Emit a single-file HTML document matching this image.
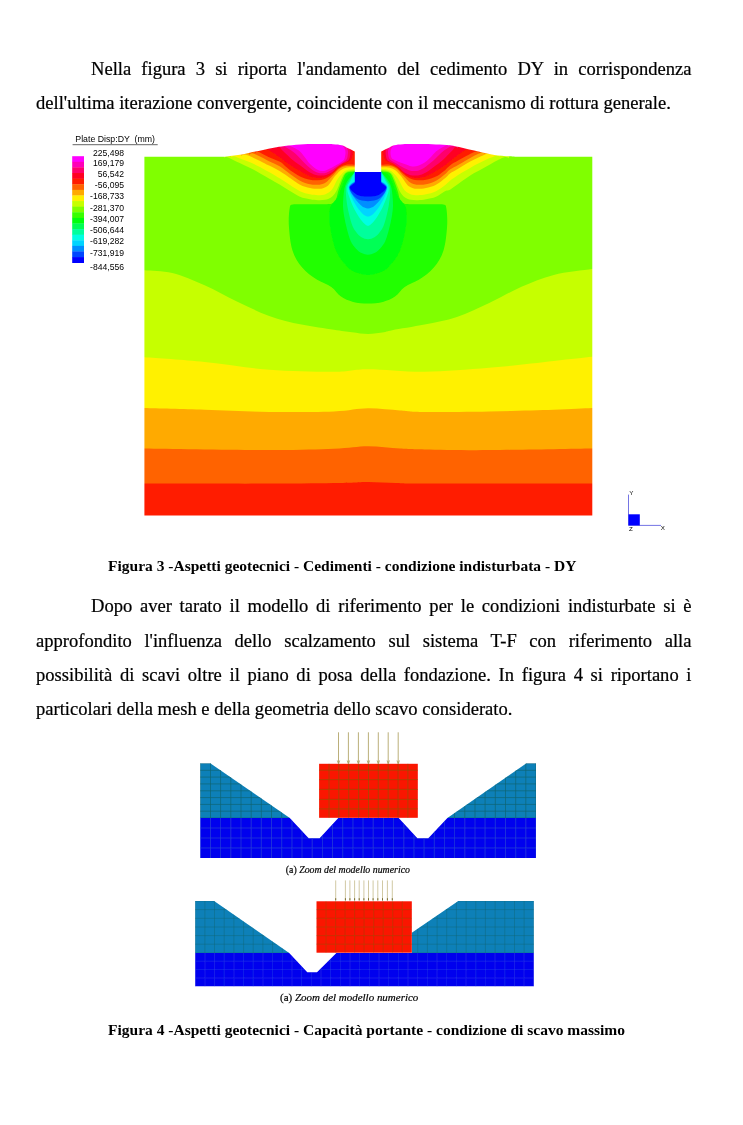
<!DOCTYPE html>
<html lang="it"><head><meta charset="utf-8"><title>Aspetti geotecnici</title>
<style>
html,body{margin:0;padding:0;background:#fff;}
body{width:743px;height:1125px;position:relative;overflow:hidden;font-family:"Liberation Serif","Times New Roman",serif;color:#000;}
p{position:absolute;left:36px;width:655.5px;margin:0;font-size:18.56px;line-height:33.4px;text-align:justify;text-indent:55px;-webkit-text-stroke:0.22px #000;}
.cap{position:absolute;left:108px;margin:0;font-size:15.51px;line-height:20px;font-weight:bold;white-space:nowrap;}
.sub{position:absolute;margin:0;white-space:nowrap;font-style:italic;line-height:14px;-webkit-text-stroke:0.2px #000;}
.sub span{font-style:normal;}
svg{position:absolute;left:0;top:0;}
svg text{font-family:"Liberation Sans",Arial,sans-serif;fill:#000;}
.lg{font-size:8.6px;}
</style></head><body>
<p style="top:52.0px;line-height:33.5px">Nella figura 3 si riporta l'andamento del cedimento DY in corrispondenza dell'ultima iterazione convergente, coincidente con il meccanismo di rottura generale.</p>
<svg width="743" height="1125" viewBox="0 0 743 1125">
<defs>
<clipPath id="dom"><path d="M144.4 156.8C156.2 156.8 201.3 156.9 215.0 156.8C228.7 156.7 222.1 156.8 226.5 156.4C230.9 156.0 237.2 155.3 241.5 154.6C245.8 153.9 248.7 152.9 252.3 152.1C255.9 151.3 259.5 150.6 263.1 149.9C266.7 149.2 270.2 148.4 273.8 147.7C277.4 147.0 280.2 146.4 284.6 145.9C289.0 145.4 294.8 144.7 300.0 144.4C305.2 144.1 310.5 144.1 316.0 144.1C321.5 144.1 328.7 144.0 333.0 144.2C337.3 144.4 339.2 144.6 341.7 145.3C344.2 146.0 345.9 147.2 348.1 148.2C350.3 149.2 353.7 150.9 354.8 151.5L354.8 171.9L381.2 171.9L381.2 151.5C382.3 150.9 385.7 149.2 387.9 148.2C390.1 147.2 391.8 146.0 394.3 145.3C396.8 144.6 398.7 144.4 403.0 144.2C407.3 144.0 414.5 144.1 420.0 144.1C425.5 144.1 431.0 144.2 436.0 144.4C441.0 144.6 445.6 144.6 450.0 145.2C454.4 145.8 458.1 146.8 462.1 147.7C466.1 148.6 470.2 149.6 474.2 150.5C478.2 151.4 482.9 152.6 486.3 153.3C489.7 154.0 490.4 154.4 494.4 154.9C498.3 155.4 505.1 156.0 510.0 156.3C514.9 156.6 510.3 156.7 524.0 156.8C537.7 156.9 580.9 156.8 592.3 156.8L592.3 515.5L144.4 515.5Z"/></clipPath>
<filter id="bl" x="-5%" y="-5%" width="110%" height="110%"><feGaussianBlur stdDeviation="0.7"/></filter>
<filter id="bl2" x="-5%" y="-5%" width="110%" height="110%"><feGaussianBlur stdDeviation="0.45"/></filter>
</defs>
<g clip-path="url(#dom)"><g filter="url(#bl)">
<rect x="130" y="120" width="480" height="410" fill="#80ff00"/>
<path fill="#c6ff00" d="M140.0 270.0C140.8 270.0 139.4 269.7 144.8 270.2C150.2 270.7 162.3 270.5 172.3 273.0C182.3 275.5 193.8 280.5 204.6 285.2C215.4 289.9 226.1 296.3 236.9 301.4C247.7 306.5 258.4 312.0 269.2 315.9C280.0 319.8 290.7 322.3 301.5 324.6C312.3 326.9 325.4 328.5 333.8 329.8C342.2 331.1 346.3 331.5 352.0 332.2C357.7 332.9 362.7 334.0 368.0 334.0C373.3 334.0 379.9 332.8 384.0 332.2C388.1 331.6 385.5 331.5 392.3 330.2C399.1 328.9 413.8 326.8 424.6 324.6C435.4 322.4 446.1 320.6 456.9 317.0C467.7 313.4 478.4 308.0 489.2 303.0C500.0 298.0 510.7 291.5 521.5 286.8C532.3 282.1 542.1 277.8 553.8 274.9C565.5 271.9 584.7 270.1 591.9 269.1C599.1 268.1 596.1 268.9 597.0 268.9L597.3 520.5L139.4 520.5Z"/>
<path fill="#fff100" d="M140.0 357.2C140.8 357.2 134.0 356.5 144.8 357.3C155.6 358.1 183.9 359.9 204.6 362.0C225.3 364.1 247.7 368.1 269.2 369.7C290.7 371.3 317.3 371.9 333.8 371.8C350.3 371.7 352.9 369.2 368.0 369.2C383.1 369.2 404.4 372.0 424.6 371.8C444.8 371.6 467.7 369.6 489.2 367.8C510.7 366.0 536.7 362.8 553.8 360.9C570.9 359.0 584.7 357.4 591.9 356.7C599.1 356.0 596.1 356.6 597.0 356.6L597.3 520.5L139.4 520.5Z"/>
<path fill="#ffaa00" d="M140.0 408.0C140.8 408.0 134.0 407.8 144.8 408.1C155.6 408.4 183.9 409.2 204.6 409.8C225.3 410.4 247.7 411.7 269.2 412.0C290.7 412.3 317.3 412.0 333.8 411.4C350.3 410.8 357.0 408.4 368.0 408.3C379.0 408.2 390.6 409.9 400.0 410.5C409.4 411.1 409.7 411.9 424.6 412.0C439.5 412.1 467.7 411.8 489.2 411.4C510.7 411.0 536.7 410.4 553.8 409.8C570.9 409.2 584.7 408.4 591.9 408.1C599.1 407.8 596.1 408.0 597.0 408.0L597.3 520.5L139.4 520.5Z"/>
<path fill="#ff6300" d="M140.0 448.5C140.8 448.5 123.3 448.2 144.8 448.5C166.3 448.8 237.7 450.1 269.2 450.1C300.7 450.2 317.3 449.4 333.8 448.8C350.3 448.2 357.0 446.3 368.0 446.3C379.0 446.3 390.6 448.1 400.0 448.6C409.4 449.1 409.7 449.2 424.6 449.5C439.5 449.8 461.3 450.3 489.2 450.1C517.1 449.9 573.9 448.8 591.9 448.5C609.9 448.2 596.1 448.5 597.0 448.5L597.3 520.5L139.4 520.5Z"/>
<path fill="#ff1c00" d="M140.0 483.5C161.5 483.5 235.9 483.7 269.2 483.6C302.5 483.5 323.5 483.3 340.0 483.0C356.5 482.7 358.7 482.0 368.0 482.0C377.3 482.0 386.6 482.8 396.0 483.0C405.4 483.2 391.1 483.4 424.6 483.5C458.1 483.6 568.3 483.5 597.0 483.5L597.3 520.5L139.4 520.5Z"/>
<path fill="#20ff00" d="M355.0 171.5C354.0 171.6 350.7 171.6 349.0 172.0C347.3 172.4 346.1 172.9 345.0 174.2C343.9 175.5 343.2 178.0 342.3 180.0C341.4 182.0 340.6 184.3 339.9 186.3C339.2 188.3 338.6 190.1 338.0 192.0C337.4 193.9 337.2 196.2 336.5 198.0C335.8 199.8 335.4 202.0 333.5 203.0C331.6 204.0 330.6 204.0 325.0 204.2C319.4 204.4 305.4 204.1 300.0 204.2C294.6 204.3 294.2 204.0 292.5 204.6C290.8 205.2 290.3 204.4 289.7 208.0C289.1 211.6 288.4 219.2 288.9 226.3C289.4 233.4 290.3 243.7 292.5 250.6C294.7 257.5 298.1 262.7 302.2 267.5C306.2 272.3 311.9 276.4 316.8 279.6C321.7 282.8 327.3 284.1 331.3 286.9C335.3 289.7 337.4 294.1 341.0 296.6C344.6 299.1 348.6 300.7 353.1 301.9C357.6 303.1 363.0 303.6 368.0 303.6C373.0 303.6 378.4 303.1 382.9 301.9C387.4 300.7 391.4 299.1 395.0 296.6C398.6 294.1 400.7 289.7 404.7 286.9C408.7 284.1 414.3 282.8 419.2 279.6C424.1 276.4 429.8 272.3 433.8 267.5C437.9 262.7 441.3 257.5 443.5 250.6C445.7 243.7 446.6 233.4 447.1 226.3C447.6 219.2 446.9 211.6 446.3 208.0C445.7 204.4 445.2 205.2 443.5 204.6C441.8 204.0 441.4 204.3 436.0 204.2C430.6 204.1 416.6 204.4 411.0 204.2C405.4 204.0 404.4 204.0 402.5 203.0C400.6 202.0 400.2 199.8 399.5 198.0C398.8 196.2 398.6 193.9 398.0 192.0C397.4 190.1 396.8 188.3 396.1 186.3C395.4 184.3 394.6 182.0 393.7 180.0C392.8 178.0 392.1 175.5 391.0 174.2C389.9 172.9 388.7 172.4 387.0 172.0C385.3 171.6 382.0 171.6 381.0 171.5Z"/>
<path fill="#00ff0e" d="M355.0 171.8C354.2 172.0 351.4 172.3 350.0 173.0C348.6 173.7 347.5 174.7 346.5 176.0C345.5 177.3 344.8 179.3 344.0 181.0C343.2 182.7 342.7 184.5 342.0 186.3C341.3 188.1 340.8 190.1 340.0 192.0C339.2 193.9 338.2 196.1 337.0 198.0C335.8 199.9 333.7 201.8 332.5 203.5C331.3 205.2 330.5 206.1 330.0 208.0C329.5 209.9 329.5 211.9 329.5 215.0C329.5 218.1 328.9 220.4 330.0 226.3C331.1 232.2 333.0 243.7 336.0 250.6C339.0 257.5 344.3 263.8 348.0 267.5C351.7 271.2 354.7 271.8 358.0 273.0C361.3 274.2 364.7 275.0 368.0 275.0C371.3 275.0 374.7 274.2 378.0 273.0C381.3 271.8 384.3 271.2 388.0 267.5C391.7 263.8 397.0 257.5 400.0 250.6C403.0 243.7 404.9 232.2 406.0 226.3C407.1 220.4 406.5 218.1 406.5 215.0C406.5 211.9 406.5 209.9 406.0 208.0C405.5 206.1 404.7 205.2 403.5 203.5C402.3 201.8 400.2 199.9 399.0 198.0C397.8 196.1 396.8 193.9 396.0 192.0C395.2 190.1 394.7 188.1 394.0 186.3C393.3 184.5 392.8 182.7 392.0 181.0C391.2 179.3 390.5 177.3 389.5 176.0C388.5 174.7 387.4 173.7 386.0 173.0C384.6 172.3 381.8 172.0 381.0 171.8Z"/>
<path fill="#00ff55" d="M354.8 172.0C354.2 172.8 352.2 175.0 351.0 176.5C349.8 178.0 348.5 179.2 347.5 181.0C346.5 182.8 345.5 184.5 344.8 187.0C344.1 189.5 343.8 192.8 343.5 196.0C343.2 199.2 342.9 202.5 343.0 206.0C343.1 209.5 343.7 213.3 344.3 217.0C344.9 220.7 345.7 224.1 346.7 228.0C347.7 231.9 349.1 237.2 350.5 240.4C351.9 243.7 353.3 245.5 355.0 247.5C356.7 249.5 358.3 251.3 360.5 252.5C362.7 253.7 365.5 254.8 368.0 254.8C370.5 254.8 373.3 253.7 375.5 252.5C377.7 251.3 379.3 249.5 381.0 247.5C382.7 245.5 384.1 243.7 385.5 240.4C386.9 237.2 388.3 231.9 389.3 228.0C390.3 224.1 391.1 220.7 391.7 217.0C392.3 213.3 392.9 209.5 393.0 206.0C393.1 202.5 392.8 199.2 392.5 196.0C392.2 192.8 391.9 189.5 391.2 187.0C390.5 184.5 389.5 182.8 388.5 181.0C387.5 179.2 386.2 178.0 385.0 176.5C383.8 175.0 381.8 172.8 381.2 172.0Z"/>
<path fill="#00ff9c" d="M354.8 172.0C354.2 172.8 352.6 175.3 351.5 177.0C350.4 178.7 349.4 180.3 348.5 182.0C347.6 183.7 346.4 184.8 346.0 187.0C345.6 189.2 345.8 192.2 346.0 195.0C346.2 197.8 346.5 200.8 347.0 204.0C347.5 207.2 348.1 210.3 349.0 214.0C349.9 217.7 351.2 222.9 352.5 226.0C353.8 229.1 355.0 230.6 356.5 232.5C358.0 234.4 359.6 236.2 361.5 237.3C363.4 238.4 365.8 239.3 368.0 239.3C370.2 239.3 372.6 238.4 374.5 237.3C376.4 236.2 378.0 234.4 379.5 232.5C381.0 230.6 382.2 229.1 383.5 226.0C384.8 222.9 386.1 217.7 387.0 214.0C387.9 210.3 388.5 207.2 389.0 204.0C389.5 200.8 389.8 197.8 390.0 195.0C390.2 192.2 390.4 189.2 390.0 187.0C389.6 184.8 388.4 183.7 387.5 182.0C386.6 180.3 385.6 178.7 384.5 177.0C383.4 175.3 381.8 172.8 381.2 172.0Z"/>
<path fill="#00ffe3" d="M354.8 172.0C354.4 172.8 353.2 175.5 352.5 177.0C351.8 178.5 351.2 179.7 350.5 181.0C349.8 182.3 348.5 183.5 348.0 185.0C347.5 186.5 347.1 188.1 347.3 190.0C347.5 191.9 348.0 193.4 349.0 196.3C350.0 199.2 352.0 204.4 353.5 207.6C355.0 210.8 356.7 213.3 358.0 215.5C359.3 217.7 360.4 219.1 361.5 220.5C362.6 221.9 363.7 223.1 364.8 224.0C365.9 224.9 366.9 225.8 368.0 225.8C369.1 225.8 370.1 224.9 371.2 224.0C372.3 223.1 373.4 221.9 374.5 220.5C375.6 219.1 376.7 217.7 378.0 215.5C379.3 213.3 381.0 210.8 382.5 207.6C384.0 204.4 386.0 199.2 387.0 196.3C388.0 193.4 388.5 191.9 388.7 190.0C388.9 188.1 388.5 186.5 388.0 185.0C387.5 183.5 386.2 182.3 385.5 181.0C384.8 179.7 384.2 178.5 383.5 177.0C382.8 175.5 381.6 172.8 381.2 172.0Z"/>
<path fill="#00d4ff" d="M356.0 180.5C355.1 181.1 351.7 182.8 350.5 184.0C349.3 185.2 348.5 185.4 348.6 187.5C348.7 189.6 349.9 193.3 351.2 196.3C352.5 199.3 354.6 203.2 356.2 205.7C357.8 208.2 359.2 209.9 360.5 211.5C361.8 213.1 362.8 214.2 364.0 215.0C365.2 215.8 366.7 216.6 368.0 216.6C369.3 216.6 370.8 215.8 372.0 215.0C373.2 214.2 374.2 213.1 375.5 211.5C376.8 209.9 378.2 208.2 379.8 205.7C381.4 203.2 383.5 199.3 384.8 196.3C386.1 193.3 387.3 189.6 387.4 187.5C387.5 185.4 386.7 185.2 385.5 184.0C384.3 182.8 380.9 181.1 380.0 180.5Z"/>
<path fill="#008eff" d="M356.0 181.0C355.1 181.6 351.9 183.3 350.8 184.5C349.7 185.7 349.0 186.3 349.2 188.0C349.4 189.7 350.6 192.1 352.0 194.4C353.4 196.7 355.9 199.8 357.5 201.7C359.1 203.6 360.3 204.7 361.5 205.7C362.7 206.7 363.4 207.1 364.5 207.6C365.6 208.1 366.8 208.5 368.0 208.5C369.2 208.5 370.4 208.1 371.5 207.6C372.6 207.1 373.3 206.7 374.5 205.7C375.7 204.7 376.9 203.6 378.5 201.7C380.1 199.8 382.6 196.7 384.0 194.4C385.4 192.1 386.6 189.7 386.8 188.0C387.0 186.3 386.3 185.7 385.2 184.5C384.1 183.3 380.9 181.6 380.0 181.0Z"/>
<path fill="#0047ff" d="M356.0 181.5C355.2 182.1 352.1 183.9 351.0 185.0C349.9 186.1 349.5 186.6 349.5 187.8C349.5 189.0 350.1 190.5 351.0 192.0C351.9 193.5 353.5 195.7 355.0 197.0C356.5 198.3 357.8 199.3 360.0 200.0C362.2 200.7 365.3 201.2 368.0 201.2C370.7 201.2 373.8 200.7 376.0 200.0C378.2 199.3 379.5 198.3 381.0 197.0C382.5 195.7 384.1 193.5 385.0 192.0C385.9 190.5 386.5 189.0 386.5 187.8C386.5 186.6 386.1 186.1 385.0 185.0C383.9 183.9 380.8 182.1 380.0 181.5Z"/>
<path fill="#0000ff" d="M356.0 182.0C355.2 182.6 352.5 184.6 351.5 185.5C350.5 186.4 349.7 186.6 349.8 187.5C349.9 188.4 350.7 189.8 352.0 191.0C353.3 192.2 355.7 194.1 357.5 195.0C359.3 195.9 361.2 196.1 363.0 196.3C364.8 196.6 366.3 196.5 368.0 196.5C369.7 196.5 371.2 196.6 373.0 196.3C374.8 196.1 376.7 195.9 378.5 195.0C380.3 194.1 382.7 192.2 384.0 191.0C385.3 189.8 386.1 188.4 386.2 187.5C386.3 186.6 385.5 186.4 384.5 185.5C383.5 184.6 380.8 182.6 380.0 182.0Z"/>
<path fill="#0000ff" d="M354.8 171H381.2V186H354.8Z"/>
<path fill="#c6ff00" d="M224.0 157.8C224.5 157.7 225.0 156.4 227.0 157.0C229.0 157.6 232.0 159.4 236.2 161.4C240.4 163.4 246.9 166.1 252.3 168.9C257.7 171.7 263.9 175.5 268.5 178.2C273.1 180.8 276.4 182.7 280.0 184.8C283.6 186.9 286.7 189.0 290.0 191.0C293.3 193.0 296.7 195.4 300.0 196.8C303.3 198.2 307.0 198.7 310.0 199.3C313.0 199.9 315.5 200.1 318.0 200.2C320.5 200.3 322.8 200.2 325.0 199.8C327.2 199.4 329.2 198.7 331.0 197.5C332.8 196.3 334.2 194.4 335.5 192.5C336.8 190.6 337.6 188.4 338.5 186.3C339.4 184.2 340.1 182.0 341.0 180.0C341.9 178.0 342.7 175.6 343.9 174.2C345.1 172.8 346.1 172.0 348.0 171.3C349.9 170.7 354.2 170.5 355.5 170.3L355.5 120.0L221.0 120.0Z"/>
<path fill="#c6ff00" d="M509.0 158.2C508.3 158.0 506.8 156.7 505.0 157.0C503.2 157.3 500.9 158.6 498.5 159.8C496.1 161.0 493.1 162.7 490.4 164.2C487.7 165.7 485.0 167.2 482.3 168.7C479.6 170.2 476.9 171.5 474.2 173.1C471.5 174.7 468.9 176.5 466.2 178.3C463.5 180.1 460.8 182.1 458.1 184.0C455.4 185.9 452.1 188.5 450.0 189.7C447.9 190.9 447.6 189.8 445.3 191.0C443.0 192.2 439.2 195.4 436.0 196.8C432.8 198.2 429.0 198.7 426.0 199.3C423.0 199.9 420.5 200.1 418.0 200.2C415.5 200.3 413.2 200.2 411.0 199.8C408.8 199.4 406.8 198.7 405.0 197.5C403.2 196.3 401.8 194.4 400.5 192.5C399.2 190.6 398.4 188.4 397.5 186.3C396.6 184.2 395.9 182.0 395.0 180.0C394.1 178.0 393.3 175.6 392.1 174.2C390.9 172.8 389.9 172.0 388.0 171.3C386.1 170.7 381.8 170.5 380.5 170.3L380.5 120.0L512.0 120.0Z"/>
<path fill="#fff100" d="M231.0 157.3C231.5 157.1 232.5 156.0 234.0 156.2C235.5 156.4 236.9 157.3 240.0 158.5C243.1 159.7 247.6 161.1 252.3 163.3C257.1 165.5 263.9 169.2 268.5 171.8C273.1 174.4 276.4 176.4 280.0 178.6C283.6 180.8 286.7 182.9 290.0 185.0C293.3 187.1 296.7 189.6 300.0 191.2C303.3 192.8 307.0 193.6 310.0 194.3C313.0 195.0 315.7 195.1 318.0 195.2C320.3 195.3 322.1 195.3 324.0 194.8C325.9 194.3 328.0 193.1 329.5 192.0C331.0 190.9 332.0 189.5 333.0 188.0C334.0 186.5 334.7 184.6 335.5 183.0C336.3 181.4 337.0 180.0 338.0 178.5C339.0 177.0 340.2 175.5 341.5 174.2C342.8 172.9 343.7 171.4 346.0 170.5C348.3 169.6 353.9 169.1 355.5 168.8L355.5 120.0L228.0 120.0Z"/>
<path fill="#fff100" d="M500.0 156.6C499.5 156.4 498.5 155.2 496.9 155.4C495.3 155.6 492.8 156.8 490.4 157.8C488.0 158.8 485.0 160.1 482.3 161.4C479.6 162.7 476.9 163.9 474.2 165.4C471.5 166.9 468.9 168.7 466.2 170.3C463.5 171.9 460.8 173.3 458.1 175.1C455.4 176.8 452.1 179.2 450.0 180.8C447.9 182.5 447.6 183.3 445.3 185.0C443.0 186.7 439.2 189.6 436.0 191.2C432.8 192.8 429.0 193.6 426.0 194.3C423.0 195.0 420.3 195.1 418.0 195.2C415.7 195.3 413.9 195.3 412.0 194.8C410.1 194.3 408.0 193.1 406.5 192.0C405.0 190.9 404.0 189.5 403.0 188.0C402.0 186.5 401.3 184.6 400.5 183.0C399.7 181.4 399.0 180.0 398.0 178.5C397.0 177.0 395.8 175.5 394.5 174.2C393.2 172.9 392.3 171.4 390.0 170.5C387.7 169.6 382.1 169.1 380.5 168.8L380.5 120.0L503.0 120.0Z"/>
<path fill="#ffaa00" d="M241.0 156.0C241.6 155.8 242.6 154.4 244.5 154.6C246.4 154.8 248.3 155.4 252.3 157.2C256.3 159.0 263.9 163.0 268.5 165.3C273.1 167.6 276.4 169.1 280.0 171.2C283.6 173.3 286.7 175.8 290.0 178.0C293.3 180.2 296.7 183.0 300.0 184.7C303.3 186.4 307.0 187.3 310.0 188.0C313.0 188.7 315.8 188.8 318.0 188.8C320.2 188.9 321.4 188.8 323.0 188.3C324.6 187.8 326.2 187.0 327.5 186.0C328.8 185.0 329.5 183.8 330.5 182.5C331.5 181.2 332.5 179.4 333.5 178.0C334.5 176.6 335.4 175.5 336.7 174.2C337.9 172.9 339.3 171.1 341.0 170.0C342.7 168.9 344.6 167.9 347.0 167.5C349.4 167.1 354.1 167.3 355.5 167.3L355.5 120.0L238.0 120.0Z"/>
<path fill="#ffaa00" d="M491.0 154.6C490.5 154.4 489.4 153.3 488.0 153.5C486.6 153.7 484.6 154.7 482.3 155.7C480.0 156.7 476.9 158.1 474.2 159.4C471.5 160.8 468.9 162.2 466.2 163.8C463.5 165.4 460.8 167.1 458.1 168.7C455.4 170.3 452.1 171.9 450.0 173.5C447.9 175.1 447.6 176.1 445.3 178.0C443.0 179.9 439.2 183.0 436.0 184.7C432.8 186.4 429.0 187.3 426.0 188.0C423.0 188.7 420.2 188.8 418.0 188.8C415.8 188.9 414.6 188.8 413.0 188.3C411.4 187.8 409.8 187.0 408.5 186.0C407.2 185.0 406.5 183.8 405.5 182.5C404.5 181.2 403.5 179.4 402.5 178.0C401.5 176.6 400.6 175.5 399.3 174.2C398.1 172.9 396.7 171.1 395.0 170.0C393.3 168.9 391.4 167.9 389.0 167.5C386.6 167.1 381.9 167.3 380.5 167.3L380.5 120.0L494.0 120.0Z"/>
<path fill="#ff6300" d="M249.0 154.8C249.6 154.5 250.7 152.9 252.5 153.2C254.3 153.5 257.3 155.2 260.0 156.5C262.7 157.8 265.2 159.3 268.5 161.0C271.8 162.7 276.4 164.3 280.0 166.5C283.6 168.7 286.7 171.6 290.0 174.0C293.3 176.4 296.7 179.0 300.0 180.7C303.3 182.4 307.0 183.5 310.0 184.2C313.0 184.9 315.9 184.7 318.0 184.7C320.1 184.7 321.1 184.4 322.5 184.0C323.9 183.6 325.2 182.9 326.5 182.0C327.8 181.1 328.9 179.6 330.0 178.5C331.1 177.4 332.1 176.4 333.0 175.5C333.9 174.6 334.2 174.1 335.2 173.0C336.2 171.9 337.4 170.1 339.0 169.0C340.6 167.9 342.2 166.8 345.0 166.3C347.8 165.8 353.8 166.2 355.5 166.2L355.5 120.0L246.0 120.0Z"/>
<path fill="#ff6300" d="M485.0 153.8C484.5 153.6 483.8 152.1 482.0 152.4C480.2 152.7 476.8 154.4 474.2 155.7C471.6 157.0 468.9 158.6 466.2 160.2C463.5 161.8 460.8 163.4 458.1 165.0C455.4 166.6 452.1 168.0 450.0 169.5C447.9 171.0 447.6 172.1 445.3 174.0C443.0 175.9 439.2 179.0 436.0 180.7C432.8 182.4 429.0 183.5 426.0 184.2C423.0 184.9 420.1 184.7 418.0 184.7C415.9 184.7 414.9 184.4 413.5 184.0C412.1 183.6 410.8 182.9 409.5 182.0C408.2 181.1 407.1 179.6 406.0 178.5C404.9 177.4 403.9 176.4 403.0 175.5C402.1 174.6 401.8 174.1 400.8 173.0C399.8 171.9 398.6 170.1 397.0 169.0C395.4 167.9 393.8 166.8 391.0 166.3C388.2 165.8 382.2 166.2 380.5 166.2L380.5 120.0L488.0 120.0Z"/>
<path fill="#ff1c00" d="M255.0 153.3C255.5 153.0 255.8 151.1 258.0 151.7C260.2 152.3 264.8 155.3 268.5 157.0C272.2 158.7 277.2 160.3 280.0 161.8C282.8 163.3 283.0 164.4 285.0 166.0C287.0 167.6 289.5 169.8 292.0 171.5C294.5 173.2 297.0 175.1 300.0 176.5C303.0 177.9 307.0 179.2 310.0 179.8C313.0 180.4 315.7 180.3 318.0 180.2C320.3 180.1 322.2 179.7 324.0 179.2C325.8 178.7 327.2 177.8 328.5 177.0C329.8 176.2 330.9 175.2 332.0 174.3C333.1 173.4 333.7 173.0 335.0 171.8C336.3 170.6 338.0 168.4 339.9 167.2C341.8 166.0 343.7 165.1 346.3 164.7C348.9 164.3 354.0 164.9 355.5 165.0L355.5 120.0L252.0 120.0Z"/>
<path fill="#ff1c00" d="M480.0 152.6C479.6 152.4 478.5 151.3 477.5 151.2C476.5 151.1 476.1 151.3 474.2 152.1C472.3 152.9 468.9 154.7 466.2 156.1C463.5 157.5 460.8 159.0 458.1 160.6C455.4 162.2 452.4 163.6 450.0 165.4C447.6 167.2 445.8 169.7 443.4 171.5C441.1 173.3 438.9 175.1 436.0 176.5C433.1 177.9 429.0 179.2 426.0 179.8C423.0 180.4 420.3 180.3 418.0 180.2C415.7 180.1 413.8 179.7 412.0 179.2C410.2 178.7 408.8 177.8 407.5 177.0C406.2 176.2 405.1 175.2 404.0 174.3C402.9 173.4 402.3 173.0 401.0 171.8C399.7 170.6 398.0 168.4 396.1 167.2C394.2 166.0 392.3 165.1 389.7 164.7C387.1 164.3 382.0 164.9 380.5 165.0L380.5 120.0L483.0 120.0Z"/>
<path fill="#ff0022" d="M264.0 150.7C264.5 150.4 265.2 148.6 267.0 149.2C268.8 149.8 272.5 152.4 275.0 154.0C277.5 155.6 279.5 157.2 282.0 159.0C284.5 160.8 287.0 163.0 290.0 165.0C293.0 167.0 296.7 169.1 300.0 171.0C303.3 172.9 307.0 175.1 310.0 176.3C313.0 177.5 315.5 177.8 318.0 178.0C320.5 178.2 322.9 177.8 325.0 177.2C327.1 176.6 328.9 175.6 330.5 174.5C332.1 173.4 333.1 171.9 334.5 170.5C335.9 169.1 337.2 167.1 339.0 165.8C340.8 164.5 343.2 163.7 345.0 162.8C346.8 161.9 348.8 161.6 350.0 160.5C351.2 159.4 351.9 157.8 352.5 156.0C353.1 154.2 353.2 151.0 353.3 150.0L353.3 120.0L261.0 120.0Z"/>
<path fill="#ff0022" d="M469.5 150.7C469.0 150.4 468.4 148.6 466.7 149.2C465.0 149.8 461.6 152.4 459.2 154.0C456.9 155.6 455.1 157.2 452.7 159.0C450.4 160.8 448.1 163.0 445.3 165.0C442.5 167.0 439.2 169.1 436.0 171.0C432.8 172.9 429.0 175.1 426.0 176.3C423.0 177.5 420.5 177.8 418.0 178.0C415.5 178.2 413.1 177.8 411.0 177.2C408.9 176.6 407.1 175.6 405.5 174.5C403.9 173.4 402.9 171.9 401.5 170.5C400.1 169.1 398.8 167.1 397.0 165.8C395.2 164.5 392.8 163.7 391.0 162.8C389.2 161.9 387.2 161.6 386.0 160.5C384.8 159.4 384.1 157.8 383.5 156.0C382.9 154.2 382.8 151.0 382.7 150.0L382.7 120.0L472.5 120.0Z"/>
<path fill="#ff006c" d="M276.5 148.2C276.9 148.0 278.0 146.4 279.0 146.8C280.0 147.2 281.2 149.2 282.5 150.5C283.8 151.8 285.2 153.2 287.0 154.8C288.8 156.4 290.8 158.6 293.0 160.3C295.2 162.1 297.2 163.3 300.0 165.3C302.8 167.3 307.0 170.8 310.0 172.5C313.0 174.2 315.3 175.0 318.0 175.4C320.7 175.8 323.8 175.6 326.2 175.0C328.6 174.4 330.9 173.0 332.6 171.8C334.4 170.6 335.1 169.2 336.7 167.8C338.3 166.5 340.6 164.8 342.3 163.7C344.1 162.6 346.0 162.2 347.2 161.3C348.4 160.4 349.1 159.6 349.6 158.0C350.1 156.4 350.4 153.8 350.4 152.0C350.4 150.2 349.6 147.8 349.5 147.0L349.5 120.0L273.5 120.0Z"/>
<path fill="#ff006c" d="M457.9 148.2C457.5 148.0 456.5 146.4 455.5 146.8C454.6 147.2 453.5 149.2 452.3 150.5C451.0 151.8 449.7 153.2 448.1 154.8C446.5 156.4 444.5 158.6 442.5 160.3C440.5 162.1 438.8 163.3 436.0 165.3C433.2 167.3 429.0 170.8 426.0 172.5C423.0 174.2 420.7 175.0 418.0 175.4C415.3 175.8 412.2 175.6 409.8 175.0C407.4 174.4 405.1 173.0 403.4 171.8C401.6 170.6 400.9 169.2 399.3 167.8C397.7 166.5 395.4 164.8 393.7 163.7C391.9 162.6 390.0 162.2 388.8 161.3C387.6 160.4 386.9 159.6 386.4 158.0C385.9 156.4 385.6 153.8 385.6 152.0C385.6 150.2 386.4 147.8 386.5 147.0L386.5 120.0L460.9 120.0Z"/>
<path fill="#ff00b8" d="M280.0 147.2C280.3 147.0 280.7 145.9 282.0 146.1C283.3 146.3 286.0 147.4 288.0 148.5C290.0 149.6 292.0 150.9 294.0 152.5C296.0 154.1 298.2 156.5 300.0 158.3C301.8 160.1 303.3 161.9 305.0 163.5C306.7 165.1 308.5 166.8 310.0 168.0C311.5 169.2 312.7 170.2 314.0 171.0C315.3 171.8 316.7 172.4 318.0 172.8C319.3 173.2 320.6 173.3 322.0 173.3C323.4 173.3 324.3 173.4 326.2 172.7C328.1 172.0 331.2 170.3 333.4 169.0C335.6 167.7 337.6 166.1 339.5 164.8C341.4 163.5 343.5 162.4 344.8 161.3C346.1 160.2 346.7 159.6 347.2 158.0C347.7 156.4 348.0 153.7 348.0 152.0C348.0 150.3 347.5 149.2 347.0 148.0C346.5 146.8 345.3 145.5 345.0 145.0L345.0 120.0L277.0 120.0Z"/>
<path fill="#ff00b8" d="M454.6 147.2C454.3 147.0 454.0 145.9 452.7 146.1C451.5 146.3 449.0 147.4 447.2 148.5C445.3 149.6 443.4 150.9 441.6 152.5C439.7 154.1 437.8 156.2 436.0 157.9C434.2 159.6 432.7 161.1 431.0 162.5C429.3 163.9 427.5 165.3 426.0 166.4C424.5 167.5 423.3 168.4 422.0 169.1C420.7 169.8 419.3 170.3 418.0 170.7C416.7 171.0 415.4 171.1 414.0 171.1C412.6 171.1 411.7 171.2 409.8 170.6C407.9 169.9 404.8 168.5 402.6 167.3C400.4 166.2 398.4 164.8 396.5 163.6C394.6 162.5 392.5 161.5 391.2 160.5C389.9 159.5 389.3 159.1 388.8 157.6C388.3 156.2 388.0 153.6 388.0 152.0C388.0 150.4 388.5 149.2 389.0 148.0C389.5 146.8 390.7 145.5 391.0 145.0L391.0 120.0L457.6 120.0Z"/>
<path fill="#ff00ff" d="M286.0 146.5C286.3 146.3 286.7 145.1 288.0 145.3C289.3 145.5 292.0 146.8 294.0 147.8C296.0 148.8 298.2 149.9 300.0 151.5C301.8 153.1 303.2 155.3 304.8 157.3C306.4 159.3 307.8 161.6 309.3 163.3C310.8 165.0 312.6 166.4 314.0 167.5C315.4 168.6 316.7 169.4 318.0 170.0C319.3 170.6 320.6 171.0 322.0 171.0C323.4 171.0 324.2 171.0 326.2 170.2C328.2 169.4 331.5 167.7 334.2 166.2C336.9 164.7 340.6 162.7 342.3 161.3C344.1 159.9 344.2 159.6 344.7 158.0C345.2 156.4 345.6 153.8 345.5 152.0C345.4 150.2 344.8 148.8 344.0 147.5C343.2 146.2 341.5 145.0 341.0 144.5L341.0 120.0L283.0 120.0Z"/>
<path fill="#ff00ff" d="M449.0 146.5C448.7 146.3 448.4 145.1 447.2 145.3C445.9 145.5 443.4 146.8 441.6 147.8C439.7 148.8 437.7 150.0 436.0 151.5C434.3 153.0 432.8 155.1 431.2 156.7C429.6 158.2 428.2 159.8 426.7 161.0C425.2 162.2 423.4 163.2 422.0 164.0C420.6 164.8 419.3 165.4 418.0 165.8C416.7 166.2 415.4 166.5 414.0 166.5C412.6 166.5 411.8 166.5 409.8 165.9C407.8 165.4 404.5 164.1 401.8 163.1C399.1 162.0 395.4 160.5 393.7 159.5C391.9 158.6 391.8 158.4 391.3 157.2C390.8 155.9 390.4 153.6 390.5 152.0C390.6 150.4 391.2 148.8 392.0 147.5C392.8 146.2 394.5 145.0 395.0 144.5L395.0 120.0L452.0 120.0Z"/>
</g></g>
<text x="75.3" y="142" style="font-size:8.78px" xml:space="preserve">Plate Disp:DY  (mm)</text>
<path d="M72.6 144.7H157.7" stroke="#222" stroke-width="0.7"/>
<g filter="url(#bl2)">
<rect x="72.2" y="156.20" width="11.8" height="5.91" fill="#ff00ff"/>
<rect x="72.2" y="161.81" width="11.8" height="5.91" fill="#ff00b8"/>
<rect x="72.2" y="167.41" width="11.8" height="5.91" fill="#ff006c"/>
<rect x="72.2" y="173.02" width="11.8" height="5.91" fill="#ff0022"/>
<rect x="72.2" y="178.62" width="11.8" height="5.91" fill="#ff1c00"/>
<rect x="72.2" y="184.23" width="11.8" height="5.91" fill="#ff6300"/>
<rect x="72.2" y="189.83" width="11.8" height="5.91" fill="#ffaa00"/>
<rect x="72.2" y="195.44" width="11.8" height="5.91" fill="#fff100"/>
<rect x="72.2" y="201.04" width="11.8" height="5.91" fill="#c6ff00"/>
<rect x="72.2" y="206.65" width="11.8" height="5.91" fill="#80ff00"/>
<rect x="72.2" y="212.25" width="11.8" height="5.91" fill="#39ff00"/>
<rect x="72.2" y="217.86" width="11.8" height="5.91" fill="#00ff0e"/>
<rect x="72.2" y="223.46" width="11.8" height="5.91" fill="#00ff55"/>
<rect x="72.2" y="229.07" width="11.8" height="5.91" fill="#00ff9c"/>
<rect x="72.2" y="234.67" width="11.8" height="5.91" fill="#00ffe3"/>
<rect x="72.2" y="240.28" width="11.8" height="5.91" fill="#00d4ff"/>
<rect x="72.2" y="245.88" width="11.8" height="5.91" fill="#008eff"/>
<rect x="72.2" y="251.49" width="11.8" height="5.91" fill="#0047ff"/>
<rect x="72.2" y="257.09" width="11.8" height="5.91" fill="#0000ff"/>
</g>
<text x="124" y="156.3" text-anchor="end" class="lg">225,498</text>
<text x="124" y="166.0" text-anchor="end" class="lg">169,179</text>
<text x="124" y="176.6" text-anchor="end" class="lg">56,542</text>
<text x="124" y="188.0" text-anchor="end" class="lg">-56,095</text>
<text x="124" y="199.3" text-anchor="end" class="lg">-168,733</text>
<text x="124" y="210.6" text-anchor="end" class="lg">-281,370</text>
<text x="124" y="221.8" text-anchor="end" class="lg">-394,007</text>
<text x="124" y="233.2" text-anchor="end" class="lg">-506,644</text>
<text x="124" y="244.3" text-anchor="end" class="lg">-619,282</text>
<text x="124" y="255.6" text-anchor="end" class="lg">-731,919</text>
<text x="124" y="270.2" text-anchor="end" class="lg">-844,556</text>
<path d="M628.5 494.6V525.4H661" stroke="#3a3ad8" stroke-width="0.7" fill="none"/>
<rect x="628.5" y="514.3" width="11.3" height="11.1" fill="#0000ff"/>
<text x="629.3" y="495.2" style="font-size:6.2px">Y</text>
<text x="660.8" y="529.8" style="font-size:6.2px">X</text>
<text x="629" y="530.6" style="font-size:6.2px">Z</text>
<g filter="url(#bl2)"><clipPath id="ca1"><path d="M200.3 763.5 L210.6 763.5 L289.8 818.0 L200.3 818.0 Z M536.0 763.5 L526.1 763.5 L447.4 818.0 L536.0 818.0 Z"/></clipPath>
<clipPath id="ca2"><path d="M200.3 818.0 L289.8 818.0 L308.7 838.2 L319.6 838.2 L338.3 818.0 L398.7 818.0 L417.4 838.2 L428.3 838.2 L447.4 818.0 L536.0 818.0 L536.0 857.9 L200.3 857.9 Z"/></clipPath>
<g clip-path="url(#ca1)"><rect x="195" y="760" width="345" height="60" fill="#0a80b8"/>
<path d="M200.3 760V860M210.5 760V860M220.6 760V860M230.8 760V860M241.0 760V860M251.2 760V860M261.3 760V860M271.5 760V860M281.7 760V860M291.9 760V860M302.0 760V860M312.2 760V860M322.4 760V860M332.5 760V860M342.7 760V860M352.9 760V860M363.1 760V860M373.2 760V860M383.4 760V860M393.6 760V860M403.8 760V860M413.9 760V860M424.1 760V860M434.3 760V860M444.4 760V860M454.6 760V860M464.8 760V860M475.0 760V860M485.1 760V860M495.3 760V860M505.5 760V860M515.7 760V860M525.8 760V860M536.0 760V860M195 763.5H540M195 770.3H540M195 777.1H540M195 783.9H540M195 790.8H540M195 797.6H540M195 804.4H540M195 811.2H540M195 818.0H540" stroke="#0f6470" stroke-opacity="0.85" stroke-width="0.8" fill="none"/></g>
<g clip-path="url(#ca2)"><rect x="195" y="815" width="345" height="45" fill="#0000ee"/>
<path d="M200.3 760V860M210.5 760V860M220.6 760V860M230.8 760V860M241.0 760V860M251.2 760V860M261.3 760V860M271.5 760V860M281.7 760V860M291.9 760V860M302.0 760V860M312.2 760V860M322.4 760V860M332.5 760V860M342.7 760V860M352.9 760V860M363.1 760V860M373.2 760V860M383.4 760V860M393.6 760V860M403.8 760V860M413.9 760V860M424.1 760V860M434.3 760V860M444.4 760V860M454.6 760V860M464.8 760V860M475.0 760V860M485.1 760V860M495.3 760V860M505.5 760V860M515.7 760V860M525.8 760V860M536.0 760V860M195 828.0H540M195 838.0H540M195 847.9H540" stroke="#2a4ad0" stroke-opacity="0.8" stroke-width="0.8" fill="none"/></g>
<rect fill="#fa1400" x="319.1" y="763.8" width="98.7" height="54"/>
<path d="M329.0 763.8V817.8M338.8 763.8V817.8M348.7 763.8V817.8M358.6 763.8V817.8M368.5 763.8V817.8M378.3 763.8V817.8M388.2 763.8V817.8M398.1 763.8V817.8M407.9 763.8V817.8M319.1 770.2H417.8M319.1 779.6H417.8M319.1 789.4H417.8M319.1 799.4H417.8M319.1 808.9H417.8" stroke="#8c5a00" stroke-opacity="0.7" stroke-width="0.9" fill="none"/>
<path d="M338.5 732.3V763.5M337.3 760.5L338.5 763.8L339.7 760.5M348.4 732.3V763.5M347.2 760.5L348.4 763.8L349.6 760.5M358.4 732.3V763.5M357.2 760.5L358.4 763.8L359.6 760.5M368.4 732.3V763.5M367.2 760.5L368.4 763.8L369.6 760.5M378.3 732.3V763.5M377.1 760.5L378.3 763.8L379.5 760.5M388.2 732.3V763.5M387.1 760.5L388.2 763.8L389.4 760.5M398.2 732.3V763.5M397.0 760.5L398.2 763.8L399.4 760.5" stroke="#aa9a58" stroke-width="0.8" fill="none"/>
<clipPath id="cb1"><path d="M195.2 901.0 L214.1 901.0 L289.2 952.9 L195.2 952.9 Z M533.8 901.0 L458.3 901.0 L411.8 932.8 L411.8 952.9 L533.8 952.9 Z"/></clipPath>
<clipPath id="cb2"><path d="M195.2 952.9 L289.2 952.9 L307.3 972.3 L317 972.3 L336.4 952.9 L533.8 952.9 L533.8 986.3 L195.2 986.3 Z"/></clipPath>
<g clip-path="url(#cb1)"><rect x="190" y="898" width="350" height="57" fill="#0a80b8"/>
<path d="M195.2 895V990M204.9 895V990M214.5 895V990M224.2 895V990M233.9 895V990M243.6 895V990M253.2 895V990M262.9 895V990M272.6 895V990M282.3 895V990M291.9 895V990M301.6 895V990M311.3 895V990M321.0 895V990M330.6 895V990M340.3 895V990M350.0 895V990M359.7 895V990M369.3 895V990M379.0 895V990M388.7 895V990M398.4 895V990M408.0 895V990M417.7 895V990M427.4 895V990M437.1 895V990M446.7 895V990M456.4 895V990M466.1 895V990M475.8 895V990M485.4 895V990M495.1 895V990M504.8 895V990M514.5 895V990M524.1 895V990M533.8 895V990M190 901.0H540M190 909.6H540M190 918.3H540M190 927.0H540M190 935.6H540M190 944.2H540M190 952.9H540" stroke="#0f6470" stroke-opacity="0.5" stroke-width="0.8" fill="none"/></g>
<g clip-path="url(#cb2)"><rect x="190" y="950" width="350" height="40" fill="#0000ee"/>
<path d="M195.2 895V990M204.9 895V990M214.5 895V990M224.2 895V990M233.9 895V990M243.6 895V990M253.2 895V990M262.9 895V990M272.6 895V990M282.3 895V990M291.9 895V990M301.6 895V990M311.3 895V990M321.0 895V990M330.6 895V990M340.3 895V990M350.0 895V990M359.7 895V990M369.3 895V990M379.0 895V990M388.7 895V990M398.4 895V990M408.0 895V990M417.7 895V990M427.4 895V990M437.1 895V990M446.7 895V990M456.4 895V990M466.1 895V990M475.8 895V990M485.4 895V990M495.1 895V990M504.8 895V990M514.5 895V990M524.1 895V990M533.8 895V990M190 961.2H540M190 969.6H540M190 977.9H540" stroke="#3a5ae0" stroke-opacity="0.4" stroke-width="0.8" fill="none"/></g>
<rect fill="#fa1400" x="316.5" y="901.3" width="95.3" height="51.4"/>
<path d="M326.0 901.3V952.7M335.6 901.3V952.7M345.1 901.3V952.7M354.6 901.3V952.7M364.1 901.3V952.7M373.7 901.3V952.7M383.2 901.3V952.7M392.7 901.3V952.7M402.3 901.3V952.7M316.5 909.6H411.8M316.5 918.3H411.8M316.5 927.0H411.8M316.5 935.6H411.8M316.5 944.2H411.8" stroke="#8c5a00" stroke-opacity="0.45" stroke-width="0.9" fill="none"/>
<path d="M335.7 880.4V900M345.4 880.4V900M349.9 880.4V900M354.6 880.4V900M359.2 880.4V900M363.9 880.4V900M368.5 880.4V900M373.1 880.4V900M377.8 880.4V900M382.5 880.4V900M387.4 880.4V900M392.3 880.4V900" stroke="#bdb17c" stroke-width="0.7" fill="none"/>
<path d="M335.7 898.2V900.6M345.4 898.2V900.6M349.9 898.2V900.6M354.6 898.2V900.6M359.2 898.2V900.6M363.9 898.2V900.6M368.5 898.2V900.6M373.1 898.2V900.6M377.8 898.2V900.6M382.5 898.2V900.6M387.4 898.2V900.6M392.3 898.2V900.6" stroke="#7a6c30" stroke-width="1" fill="none"/></g>
</svg>
<div class="cap" style="top:555.7px">Figura 3 -Aspetti geotecnici - Cedimenti - condizione indisturbata - DY</div>
<p style="top:589.3px;line-height:34.2px">Dopo aver tarato il modello di riferimento per le condizioni indisturbate si è approfondito l'influenza dello scalzamento sul sistema T-F con riferimento alla possibilità di scavi oltre il piano di posa della fondazione. In figura 4 si riportano i particolari della mesh e della geometria dello scavo considerato.</p>
<div class="sub" style="left:285.8px;top:863.2px;font-size:9.86px"><span>(a)</span> Zoom del modello numerico</div>
<div class="sub" style="left:280px;top:990.4px;font-size:10.97px"><span>(a)</span> Zoom del modello numerico</div>
<div class="cap" style="top:1019.9px">Figura 4 -Aspetti geotecnici - Capacità portante - condizione di scavo massimo</div>
</body></html>
